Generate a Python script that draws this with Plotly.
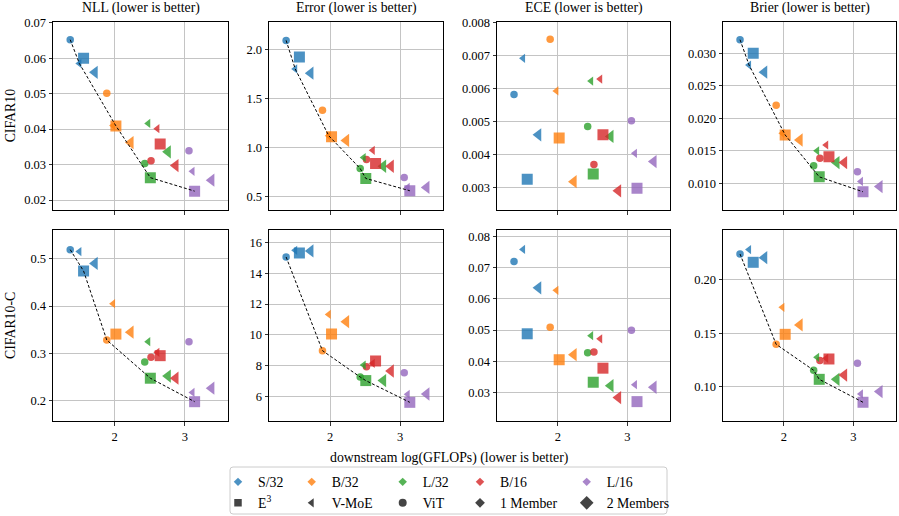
import plotly.graph_objects as go

W, H = 899, 516


def PX(p):
    return p / W


def PY(p):
    return 1 - p / H


MODELS = ["S/32", "B/32", "L/32", "B/16", "L/16"]
COLORS = ["#1f77b4", "#ff7f0e", "#2ca02c", "#d62728", "#9467bd"]
VARIANTS = ["ViT", "V-MoE 1", "E3", "V-MoE 2"]

# downstream log(GFLOPs), one value per model (order of MODELS)
X_VIT = [1.37, 1.89, 2.43, 2.52, 3.06]
X_VMOE1 = [1.50, 1.98, 2.48, 2.61, 3.11]
X_E3 = [1.56, 2.02, 2.51, 2.65, 3.14]
X_VMOE2 = [1.72, 2.23, 2.76, 2.87, 3.38]

# metric values: rows follow VARIANTS, columns follow MODELS
NLL_C10 = [
    [0.0652, 0.0501, 0.0303, 0.0311, 0.0339],
    [0.0585, 0.0410, 0.0416, 0.0401, 0.0281],
    [0.0600, 0.0409, 0.0263, 0.0358, 0.0225],
    [0.0560, 0.0362, 0.0336, 0.0297, 0.0256],
]
ERR_C10 = [
    [2.09, 1.38, 0.787, 0.878, 0.696],
    [1.80, 1.12, 0.898, 0.972, 0.595],
    [1.92, 1.11, 0.686, 0.837, 0.561],
    [1.757, 1.073, 0.81, 0.81, 0.595],
]
ECE_C10 = [
    [0.00582, 0.0075, 0.00485, 0.0037, 0.00503],
    [0.00692, 0.00593, 0.00623, 0.00629, 0.00404],
    [0.00325, 0.0045, 0.00341, 0.0046, 0.00298],
    [0.0046, 0.00318, 0.00455, 0.0029, 0.00379],
]
BRIER_C10 = [
    [0.0321, 0.0220, 0.01272, 0.01385, 0.0118],
    [0.0282, 0.0177, 0.0150, 0.0159, 0.0103],
    [0.0300, 0.01744, 0.0110, 0.0141, 0.0087],
    [0.0271, 0.01667, 0.0132, 0.0132, 0.0095],
]
NLL_C10C = [
    [0.519, 0.3285, 0.282, 0.292, 0.325],
    [0.515, 0.405, 0.325, 0.3025, 0.218],
    [0.474, 0.341, 0.248, 0.2955, 0.1985],
    [0.490, 0.345, 0.2526, 0.248, 0.227],
]
ERR_C10C = [
    [15.05, 8.98, 7.27, 7.94, 7.55],
    [15.48, 11.33, 8.05, 8.16, 6.15],
    [15.31, 10.06, 7.04, 8.31, 5.63],
    [15.44, 10.86, 7.04, 7.66, 6.17],
]
ECE_C10C = [
    [0.0719, 0.0509, 0.0427, 0.0430, 0.0499],
    [0.0758, 0.0627, 0.0482, 0.0472, 0.0325],
    [0.0488, 0.0405, 0.0333, 0.0378, 0.0271],
    [0.0635, 0.0421, 0.0322, 0.0284, 0.0317],
]
BRIER_C10C = [
    [0.2235, 0.1396, 0.1155, 0.1245, 0.122],
    [0.2276, 0.174, 0.1276, 0.1266, 0.0935],
    [0.2158, 0.1489, 0.1071, 0.126, 0.0858],
    [0.2201, 0.1576, 0.1071, 0.1111, 0.0957],
]

# dashed frontier lines: (variant, model) pairs
FRONT_NLL_C10 = [("ViT", "S/32"), ("V-MoE 1", "S/32"), ("E3", "B/32"), ("E3", "L/32"), ("E3", "L/16")]
FRONT_ERR_C10 = [("ViT", "S/32"), ("V-MoE 1", "S/32"), ("V-MoE 1", "B/32"), ("ViT", "L/32"), ("E3", "L/32"), ("E3", "L/16")]
FRONT_BRIER_C10 = [("ViT", "S/32"), ("V-MoE 1", "S/32"), ("E3", "B/32"), ("E3", "L/32"), ("E3", "L/16")]
FRONT_NLL_C10C = [("ViT", "S/32"), ("E3", "S/32"), ("ViT", "B/32"), ("E3", "L/32"), ("E3", "L/16")]
FRONT_ERR_C10C = [("ViT", "S/32"), ("ViT", "B/32"), ("ViT", "L/32"), ("E3", "L/32"), ("E3", "L/16")]
FRONT_BRIER_C10C = [("ViT", "S/32"), ("ViT", "B/32"), ("ViT", "L/32"), ("E3", "L/32"), ("E3", "L/16")]

COL_TITLES = ["NLL (lower is better)", "Error (lower is better)",
              "ECE (lower is better)", "Brier (lower is better)"]
ROW_TITLES = ["CIFAR10", "CIFAR10-C"]
X_TICKS = [2, 3]
X_TITLE = "downstream log(GFLOPs) (lower is better)"

XS = [X_VIT, X_VMOE1, X_E3, X_VMOE2]

FONT = "'Liberation Serif'"

# panel definitions: values, frontier, y range, y ticks, tick format
PANELS = [
    (NLL_C10, FRONT_NLL_C10, [0.01718, 0.07028], [0.02, 0.03, 0.04, 0.05, 0.06, 0.07], "{:.2f}"),
    (ERR_C10, FRONT_ERR_C10, [0.365, 2.28], [0.5, 1.0, 1.5, 2.0], "{:.1f}"),
    (ECE_C10, None, [0.00232, 0.00803], [0.003, 0.004, 0.005, 0.006, 0.007, 0.008], "{:.3f}"),
    (BRIER_C10, FRONT_BRIER_C10, [0.0059, 0.03487], [0.010, 0.015, 0.020, 0.025, 0.030], "{:.3f}"),
    (NLL_C10C, FRONT_NLL_C10C, [0.1578, 0.5604], [0.2, 0.3, 0.4, 0.5], "{:.1f}"),
    (ERR_C10C, FRONT_ERR_C10C, [4.42, 16.8], [6, 8, 10, 12, 14, 16], "{:d}"),
    (ECE_C10C, None, [0.0209, 0.082], [0.03, 0.04, 0.05, 0.06, 0.07, 0.08], "{:.2f}"),
    (BRIER_C10C, FRONT_BRIER_C10C, [0.0684, 0.2458], [0.10, 0.15, 0.20], "{:.2f}"),
]

# panel boxes in pixels
COL_PX = [(53, 228), (269, 443), (497, 670), (723, 896)]
ROW_PX = [(21.7, 210), (230, 421)]

SYMBOLS = ["circle", "triangle-left", "square", "triangle-left"]
SIZES = [7.5, 8, 11, 11.5]
DRAW_ORDER = [0, 1, 3, 2]

fig = go.Figure()
layout = dict(width=W, height=H, margin=dict(l=0, r=0, t=0, b=0, autoexpand=False),
              paper_bgcolor="white", plot_bgcolor="white",
              font=dict(family=FONT, size=13.5, color="black"),
              showlegend=True)

for k, (vals, front, yr, yt, fmt) in enumerate(PANELS):
    r, c = divmod(k, 4)
    idx = k + 1
    xa = "x" if idx == 1 else f"x{idx}"
    ya = "y" if idx == 1 else f"y{idx}"
    for vi in DRAW_ORDER:
        fig.add_trace(go.Scatter(
            x=XS[vi], y=vals[vi], mode="markers", xaxis=xa, yaxis=ya,
            showlegend=False, hoverinfo="skip",
            marker=dict(symbol=SYMBOLS[vi], size=SIZES[vi], color=COLORS,
                        opacity=0.8, line=dict(width=0)),
        ))
    if front:
        fx = [XS[VARIANTS.index(v)][MODELS.index(m)] for v, m in front]
        fy = [vals[VARIANTS.index(v)][MODELS.index(m)] for v, m in front]
        fig.add_trace(go.Scatter(
            x=fx, y=fy, mode="lines", xaxis=xa, yaxis=ya, showlegend=False,
            hoverinfo="skip", line=dict(color="black", width=1, dash="3px,2px"),
        ))
    x0, x1 = COL_PX[c]
    y0, y1 = ROW_PX[r]
    common = dict(showline=True, mirror=True, linecolor="black", linewidth=1,
                  showgrid=True, gridcolor="#c4c4c4", gridwidth=1, zeroline=False,
                  ticks="outside", ticklen=3.5, tickwidth=0.8, tickcolor="black",
                  tickfont=dict(size=12.5, family=FONT))
    layout["xaxis" if idx == 1 else f"xaxis{idx}"] = dict(
        common, domain=[PX(x0), PX(x1)], anchor=ya, range=[1.125, 3.615],
        tickvals=X_TICKS, ticktext=[str(t) for t in X_TICKS], showticklabels=(r == 1))
    layout["yaxis" if idx == 1 else f"yaxis{idx}"] = dict(
        common, domain=[PY(y1), PY(y0)], anchor=xa, range=yr,
        tickvals=yt, ticktext=[fmt.format(t) for t in yt])

ann = []
for c, t in enumerate(COL_TITLES):
    ann.append(dict(text=t, x=PX((COL_PX[c][0] + COL_PX[c][1]) / 2), y=PY(8),
                    xref="paper", yref="paper", showarrow=False, xanchor="center",
                    yanchor="middle", font=dict(size=13.8, family=FONT)))
for r, t in enumerate(ROW_TITLES):
    ann.append(dict(text=t, x=PX(10.5), y=PY((ROW_PX[r][0] + ROW_PX[r][1]) / 2),
                    xref="paper", yref="paper", showarrow=False, textangle=-90,
                    xanchor="center", yanchor="middle", font=dict(size=13.8, family=FONT)))
ann.append(dict(text=X_TITLE, x=PX(449), y=PY(457.5), xref="paper", yref="paper",
                showarrow=False, xanchor="center", yanchor="middle",
                font=dict(size=13.8, family=FONT)))
layout["annotations"] = ann

# legend frame with rounded corners
lx0, lx1, ly0, ly1, rad = 230, 667, 467, 514, 3
path = (f"M {PX(lx0 + rad)},{PY(ly0)} L {PX(lx1 - rad)},{PY(ly0)} "
        f"Q {PX(lx1)},{PY(ly0)} {PX(lx1)},{PY(ly0 + rad)} L {PX(lx1)},{PY(ly1 - rad)} "
        f"Q {PX(lx1)},{PY(ly1)} {PX(lx1 - rad)},{PY(ly1)} L {PX(lx0 + rad)},{PY(ly1)} "
        f"Q {PX(lx0)},{PY(ly1)} {PX(lx0)},{PY(ly1 - rad)} L {PX(lx0)},{PY(ly0 + rad)} "
        f"Q {PX(lx0)},{PY(ly0)} {PX(lx0 + rad)},{PY(ly0)} Z")
layout["shapes"] = [dict(type="path", path=path, xref="paper", yref="paper",
                         line=dict(color="#cccccc", width=1), fillcolor="white", layer="below")]

# legend: five columns of two entries
DARK = "#3a3a3a"
LEG_ROW2 = [("E<sup>3</sup>", "square", 7.5), ("V-MoE", "triangle-left", 8),
            ("ViT", "circle", 8), ("1 Member", "diamond", 7.5), ("2 Members", "diamond", 10.5)]
LEG_MARK_X = [238, 311.7, 402.7, 480, 586.7]   # px of the legend symbols
for i in range(5):
    lname = "legend" if i == 0 else f"legend{i + 1}"
    fig.add_trace(go.Scatter(x=[None], y=[None], mode="markers", name=MODELS[i],
                             legend=lname, marker=dict(symbol="diamond", size=6.5,
                                                       color=COLORS[i], opacity=0.8)))
    lab, sym, sz = LEG_ROW2[i]
    fig.add_trace(go.Scatter(x=[None], y=[None], mode="markers", name=lab,
                             legend=lname, marker=dict(symbol=sym, size=sz,
                                                       color=DARK, opacity=0.95)))
    layout[lname] = dict(x=PX(LEG_MARK_X[i] - 20), y=PY(466.4), xanchor="left", yanchor="top",
                         orientation="v", bgcolor="rgba(0,0,0,0)", borderwidth=0,
                         font=dict(size=13.8, family=FONT), tracegroupgap=0,
                         itemclick=False, itemdoubleclick=False)

fig.update_layout(**layout)
fig.write_html(
    "out.html",
    config={"displayModeBar": False, "staticPlot": True},
    post_script="document.body.style.margin='0';document.body.style.padding='0';"
                "document.documentElement.style.overflow='hidden';",
)
